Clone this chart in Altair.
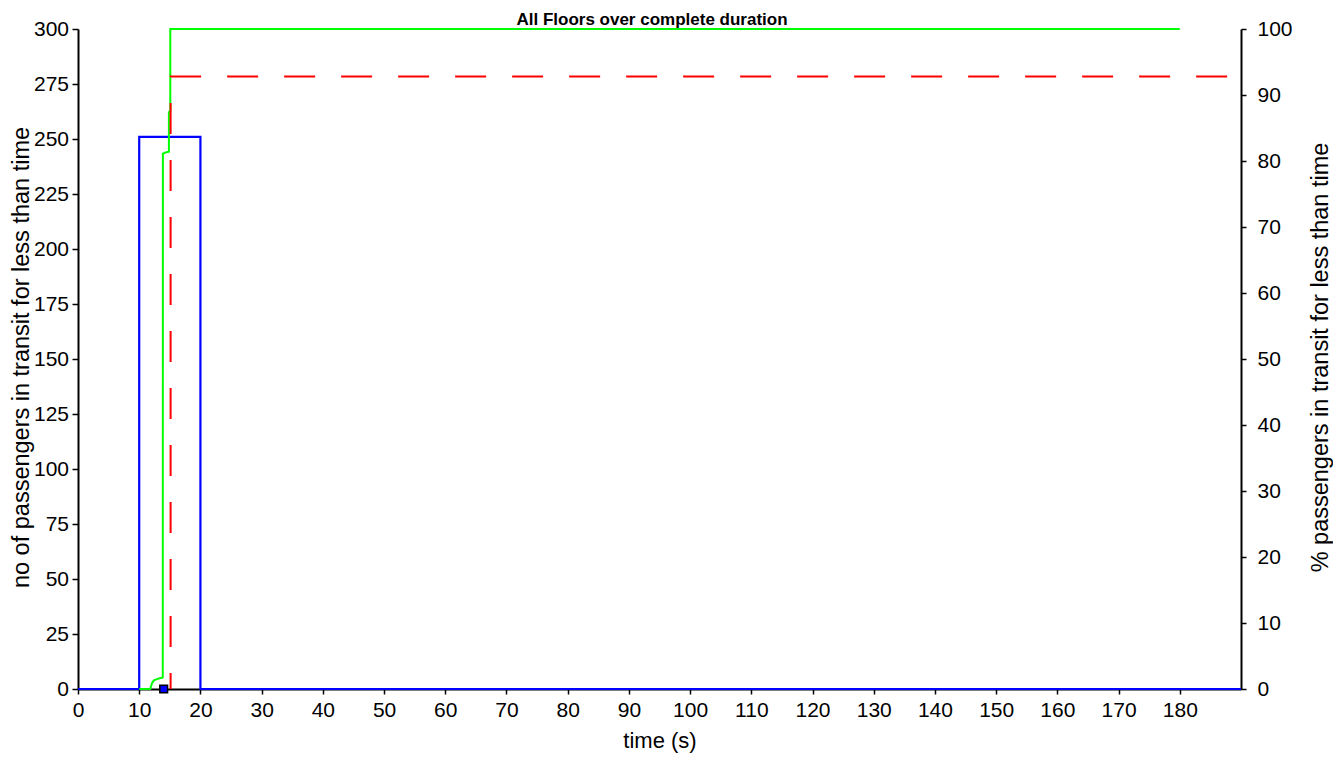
import altair as alt
import pandas as pd

# ---- data ----
chart_title = ["All Floors over complete duration"]

# Blue histogram outline (left axis: number of passengers)
blue_x = [0, 10, 10, 20, 20, 190]
blue_y = [0, 0, 251, 251, 0, 0]

# Green cumulative percentage (right axis)
green_x = [10, 11.8, 12.1, 12.4, 13.2, 13.85, 13.87, 14.3, 14.85, 14.85, 15.08, 15.08, 180]
green_pct = [0, 0, 0.9, 1.3, 1.6, 1.75, 81.1, 81.3, 81.4, 87.4, 87.6, 100, 100]

# Red dashed marker (right axis)
red_x = [15.13, 15.13, 190]
red_pct = [0, 92.8, 92.8]

# Small square marker (left axis)
marker_x = [14.0]
marker_y = [0]

x_ticks = list(range(0, 181, 10))
left_ticks = list(range(0, 301, 25))
right_ticks = list(range(0, 101, 10))

FONT = "Liberation Sans"

blue_df = pd.DataFrame({"x": blue_x, "y": blue_y, "i": range(len(blue_x))})
green_df = pd.DataFrame({"x": green_x, "y": green_pct, "i": range(len(green_x))})
red_df = pd.DataFrame({"x": red_x, "y": red_pct, "i": range(len(red_x))})
marker_df = pd.DataFrame({"x": marker_x, "y": marker_y})
title_df = pd.DataFrame({"t": chart_title})

x_scale = alt.Scale(domain=[0, 190], nice=False, zero=False)
x_axis = alt.Axis(values=x_ticks, title="time (s)", tickSize=5, labelPadding=5,
                  labelFlush=False, labelOverlap=False, titleY=58,
                  titleBaseline="alphabetic", titleFontSize=22)

left_scale = alt.Scale(domain=[0, 300], nice=False)
left_axis = alt.Axis(values=left_ticks, orient="left",
                     title="no of passengers in transit for less than time",
                     tickSize=6, labelPadding=3.5, labelFlush=False, labelOverlap=False,
                     titleAngle=270, titleX=-50, titleY=328, titleBaseline="alphabetic",
                     titleAlign="center", titleFontSize=23.5)

right_scale = alt.Scale(domain=[0, 100], nice=False)
right_axis = alt.Axis(values=right_ticks, orient="right",
                      title="% passengers in transit for less than time",
                      tickSize=5, labelPadding=11, labelFlush=False, labelOverlap=False,
                      titleAngle=270, titleX=86, titleY=328, titleBaseline="alphabetic",
                      titleAlign="center", titleFontSize=23.5)

X = alt.X("x:Q", scale=x_scale, axis=x_axis)

blue = alt.Chart(blue_df).mark_line(color="#0000ff", strokeWidth=2.2).encode(
    x=X, y=alt.Y("y:Q", scale=left_scale, axis=left_axis), order="i:Q")
marker = alt.Chart(marker_df).mark_point(shape="square", filled=True, size=60,
                                         fill="#0000ff", stroke="black",
                                         strokeWidth=1.5, opacity=1).encode(
    x=X, y=alt.Y("y:Q", scale=left_scale, axis=left_axis))

green = alt.Chart(green_df).mark_line(color="#00ff00", strokeWidth=2).encode(
    x=X, y=alt.Y("y:Q", scale=right_scale, axis=right_axis), order="i:Q")
red = alt.Chart(red_df).mark_line(color="#ff0000", strokeWidth=2,
                                  strokeDash=[31, 26], strokeDashOffset=15).encode(
    x=X, y=alt.Y("y:Q", scale=right_scale, axis=right_axis), order="i:Q")

title_layer = alt.Chart(title_df).mark_text(
    font=FONT, fontSize=17, fontWeight="bold", color="black",
    align="center", baseline="alphabetic").encode(
    x=alt.value(574), y=alt.value(-4.5), text="t:N")

left_layer = alt.layer(blue, marker)
right_layer = alt.layer(green, red)

chart = alt.layer(left_layer, right_layer, title_layer).resolve_scale(y="independent").properties(
    width=1163, height=660,
    padding={"left": 70, "top": 21, "right": 92, "bottom": 64},
    autosize=alt.AutoSizeParams(type="none"),
).configure_view(stroke=None).configure_axis(
    domainColor="black", tickColor="black", labelColor="black", titleColor="black",
    labelFont=FONT, titleFont=FONT, grid=False, domainWidth=2, tickWidth=1.5,
    labelFontSize=21, titleFontSize=23, titleFontWeight="normal",
)

chart.save("out.html", embed_options={"renderer": "svg", "actions": False})
